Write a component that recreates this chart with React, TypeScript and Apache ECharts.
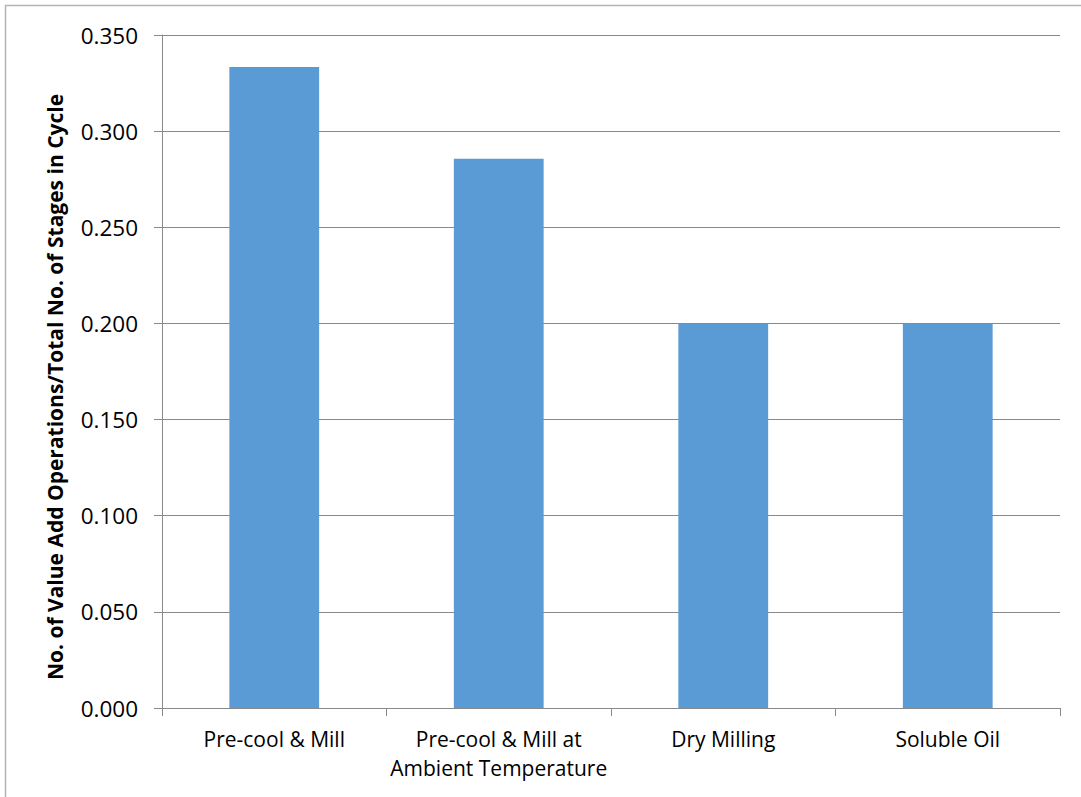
import React, { useEffect, useRef } from "react";
import * as echarts from "echarts";

const categories = [
  "Pre-cool & Mill",
  "Pre-cool & Mill at\nAmbient Temperature",
  "Dry Milling",
  "Soluble Oil",
];
const ratios = [0.3333, 0.2857, 0.2, 0.2];
const yAxisTitle = "No. of Value Add Operations/Total No. of Stages in Cycle";

const FONT = "'Open Sans', 'Noto Sans', sans-serif";

export default function App() {
  const ref = useRef<HTMLDivElement>(null);

  useEffect(() => {
    if (!ref.current) return;
    const chart = echarts.init(ref.current, undefined, { renderer: "svg" });
    chart.setOption({
      animation: false,
      backgroundColor: "#ffffff",
      grid: { left: 162, right: 21, top: 35, bottom: 89, containLabel: false },
      xAxis: {
        type: "category",
        data: categories,
        axisLine: { lineStyle: { color: "#898989", width: 1 } },
        axisTick: { show: true, length: 8, alignWithLabel: false, lineStyle: { color: "#898989" } },
        axisLabel: {
          color: "#000",
          fontFamily: FONT,
          fontSize: 21,
          lineHeight: 29,
          margin: 16,
          interval: 0,
        },
        splitLine: { show: false },
      },
      yAxis: {
        type: "value",
        min: 0,
        max: 0.35,
        interval: 0.05,
        axisLine: { show: true, lineStyle: { color: "#898989", width: 1 } },
        axisTick: { show: true, length: 8, lineStyle: { color: "#898989" } },
        axisLabel: {
          color: "#000",
          fontFamily: FONT,
          fontSize: 22.5,
          margin: 24,
          formatter: (v: number) => v.toFixed(3),
        },
        splitLine: { show: true, lineStyle: { color: "#898989", width: 1 } },
      },
      series: [
        {
          type: "bar",
          data: ratios,
          barWidth: "40%",
          itemStyle: { color: "#5B9BD5" },
        },
      ],
      graphic: [
        {
          type: "polyline",
          shape: { points: [[5.5, 797], [5.5, 5.5], [1081, 5.5]] },
          style: { stroke: "#B4B4B4", lineWidth: 1.5, fill: "none" },
          silent: true,
        },
        {
          type: "text",
          x: 55,
          y: 387,
          rotation: Math.PI / 2,
          style: {
            text: yAxisTitle,
            fill: "#000",
            font: `bold 21px ${FONT}`,
            textAlign: "center",
            textVerticalAlign: "middle",
          },
          silent: true,
        },
      ],
    });
    return () => chart.dispose();
  }, []);

  return (
    <div
      ref={ref}
      style={{ position: "fixed", left: 0, top: 0, width: 1081, height: 797 }}
    />
  );
}
